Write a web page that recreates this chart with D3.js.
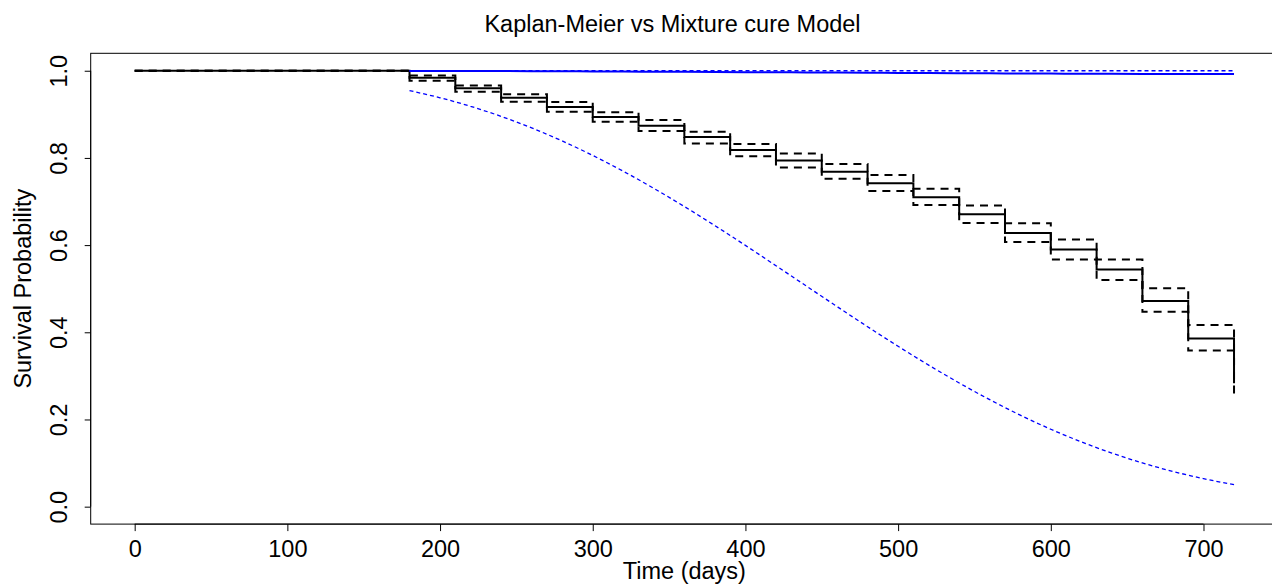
<!DOCTYPE html>
<html><head><meta charset="utf-8">
<script src="https://cdn.jsdelivr.net/npm/d3@7"></script>
<style>
html,body{margin:0;padding:0;background:#fff;}
svg{display:block;}
text{font-family:"Liberation Sans",Arial,Helvetica,sans-serif;fill:#000;}
</style></head>
<body>
<svg id="chart" width="1272" height="587"></svg>
<script>
// Kaplan-Meier estimate (step function) and 95% CI
const kmTimes  = [0,180,210,240,270,300,330,360,390,420,450,480,510,540,570,600,630,660,690,720];
const kmSurv   = [1.0,0.984,0.960,0.938,0.917,0.894,0.874,0.848,0.818,0.794,0.768,0.742,0.710,0.671,0.628,0.590,0.544,0.472,0.386,0.283];
const kmUpper  = [1.0,0.989,0.966,0.946,0.928,0.905,0.887,0.860,0.832,0.810,0.786,0.761,0.729,0.691,0.650,0.613,0.567,0.501,0.417,0.320];
const kmLower  = [1.0,0.977,0.952,0.929,0.906,0.883,0.862,0.833,0.804,0.778,0.752,0.724,0.692,0.651,0.607,0.567,0.520,0.447,0.358,0.249];

// Mixture cure model curves
const cureTimes = [180,200,220,240,260,280,300,320,340,360,380,400,420,440,460,480,500,520,540,560,580,600,620,640,660,680,700,720];
const cureSurv  = [0.9996,0.9995,0.9994,0.9992,0.9990,0.9987,0.9985,0.9982,0.9978,0.9975,0.9972,0.9968,0.9964,0.9961,0.9957,0.9953,0.9949,0.9946,0.9943,0.9940,0.9937,0.9934,0.9932,0.9930,0.9928,0.9927,0.9925,0.9924];
const cureUpper = [1.0000,1.0000,1.0000,1.0000,1.0000,1.0000,1.0000,1.0000,1.0000,1.0000,1.0000,1.0000,1.0000,1.0000,1.0000,1.0000,1.0000,1.0000,1.0000,1.0000,1.0000,1.0000,1.0000,1.0000,1.0000,1.0000,1.0000,1.0000];
const cureLower = [0.9544,0.9380,0.9183,0.8953,0.8688,0.8389,0.8057,0.7694,0.7302,0.6885,0.6447,0.5993,0.5528,0.5059,0.4590,0.4128,0.3679,0.3247,0.2838,0.2454,0.2099,0.1776,0.1486,0.1228,0.1003,0.0808,0.0643,0.0505];

const xTicks = [0,100,200,300,400,500,600,700];
const yTicks = [0.0,0.2,0.4,0.6,0.8,1.0];
const yTickLabels = ["0.0","0.2","0.4","0.6","0.8","1.0"];

const titleText = "Kaplan-Meier vs Mixture cure Model";
const xLabel = "Time (days)";
const yLabel = "Survival Probability";

(function(){
const svg = d3.select("#chart");
const pL = 90.7, pR = 1278, pT = 53.3, pB = 524.1;
const x = d3.scaleLinear().domain([-28.8, 748.8]).range([pL, pR]);
const y = d3.scaleLinear().domain([-0.04, 1.04]).range([pB, pT]);
const FS = 23.5;
const FF = '"Liberation Sans",Arial,sans-serif';

// box
svg.append("rect").attr("x", pL).attr("y", pT)
  .attr("width", pR - pL).attr("height", pB - pT)
  .attr("fill", "none").attr("stroke", "#000").attr("stroke-width", 1);

// x axis
const xAxis = d3.axisBottom(x).tickValues(xTicks).tickSize(7).tickPadding(9).tickFormat(d3.format("d"));
const gx = svg.append("g").attr("transform", `translate(0,${pB})`).call(xAxis);
gx.select(".domain").attr("d", `M${x(xTicks[0])},0H${x(xTicks[xTicks.length-1])}`).attr("stroke","#000");
gx.selectAll("text").attr("font-size", FS).attr("font-family", FF).attr("fill","#000");
gx.selectAll("line").attr("stroke","#000");

// y axis with rotated labels
const yAxis = d3.axisLeft(y).tickValues(yTicks).tickSize(6).tickFormat((d,i)=>yTickLabels[i]);
const gy = svg.append("g").attr("transform", `translate(${pL},0)`).call(yAxis);
gy.select(".domain").attr("d", `M0,${y(yTicks[0])}V${y(yTicks[yTicks.length-1])}`).attr("stroke","#000");
gy.selectAll("line").attr("stroke","#000");
gy.selectAll("text")
  .attr("font-size", FS).attr("font-family", FF).attr("fill","#000")
  .attr("x", null).attr("dy", null)
  .attr("text-anchor", "middle")
  .attr("transform", "translate(-24,0) rotate(-90)");

// titles
svg.append("text").attr("x", 672.5).attr("y", 31.5).attr("text-anchor","middle")
  .attr("font-size", FS).text(titleText);
svg.append("text").attr("x", (pL+pR)/2).attr("y", 579).attr("text-anchor","middle")
  .attr("font-size", FS).text(xLabel);
svg.append("text").attr("transform", `translate(31,${(pT+pB)/2}) rotate(-90)`).attr("text-anchor","middle")
  .attr("font-size", FS).text(yLabel);

// KM curves
const step = d3.line().curve(d3.curveStepAfter).x(d => x(d[0])).y(d => y(d[1]));
const kmLine = (vals) => step(kmTimes.map((t,i)=>[t, vals[i]]));
svg.append("path").attr("d", kmLine(kmSurv)).attr("fill","none").attr("stroke","#000").attr("stroke-width",2);
svg.append("path").attr("d", kmLine(kmUpper)).attr("fill","none").attr("stroke","#000").attr("stroke-width",2).attr("stroke-dasharray","8,6");
svg.append("path").attr("d", kmLine(kmLower)).attr("fill","none").attr("stroke","#000").attr("stroke-width",2).attr("stroke-dasharray","8,6");

// cure model curves
const lin = d3.line().curve(d3.curveMonotoneX).x(d => x(d[0])).y(d => y(d[1]));
const cureLine = (vals) => lin(cureTimes.map((t,i)=>[t, vals[i]]));
svg.append("path").attr("d", cureLine(cureUpper)).attr("fill","none").attr("stroke","#0000ff").attr("stroke-width",1.3).attr("stroke-dasharray","4,3");
svg.append("path").attr("d", cureLine(cureLower)).attr("fill","none").attr("stroke","#0000ff").attr("stroke-width",1.3).attr("stroke-dasharray","4,3");
svg.append("path").attr("d", cureLine(cureSurv)).attr("fill","none").attr("stroke","#0000ff").attr("stroke-width",2);
})();
</script>
</body></html>
